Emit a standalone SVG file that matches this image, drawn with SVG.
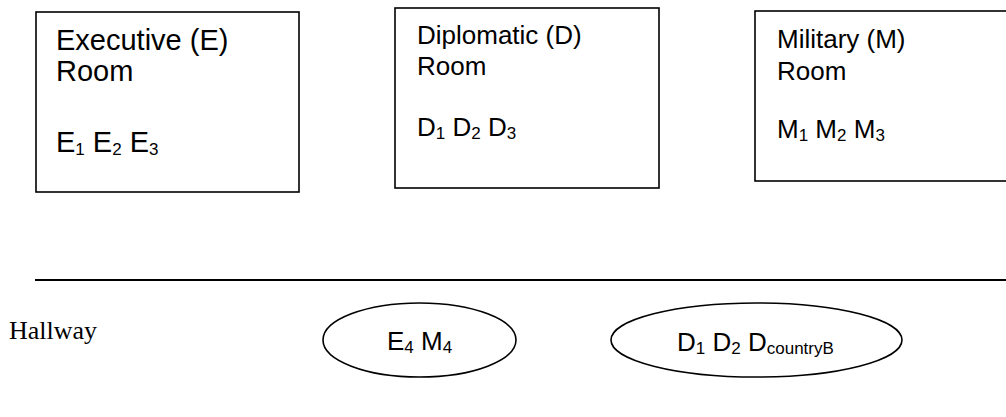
<svg xmlns="http://www.w3.org/2000/svg" width="1006" height="417" viewBox="0 0 1006 417">
  <style>
    .box { fill: #ffffff; stroke: #000000; stroke-width: 1.6; }
    .oval { fill: #ffffff; stroke: #000000; stroke-width: 1.6; }
    .lbl { font-family: "Liberation Sans", Arial, sans-serif; fill: #000000; }
    .big { font-size: 29px; }
    .mid { font-size: 26px; }
    .small { font-size: 26px; }
    .sub { font-size: 17px; }
    .serif { font-family: "Liberation Serif", "Times New Roman", serif; font-size: 26px; fill: #000000; }
  </style>
  <rect width="1006" height="417" fill="#ffffff"/>

  <!-- Executive room -->
  <g id="room-executive">
    <rect class="box" x="36" y="12" width="263" height="180"/>
    <text class="lbl big" x="56" y="50">Executive (E)</text>
    <text class="lbl big" x="56" y="81">Room</text>
    <text class="lbl big" x="56" y="152">E<tspan class="sub" dy="3">1</tspan><tspan dy="-3"> E</tspan><tspan class="sub" dy="3">2</tspan><tspan dy="-3"> E</tspan><tspan class="sub" dy="3">3</tspan></text>
  </g>

  <!-- Diplomatic room -->
  <g id="room-diplomatic">
    <rect class="box" x="395" y="8" width="264" height="180"/>
    <text class="lbl mid" x="417" y="44">Diplomatic (D)</text>
    <text class="lbl mid" x="417" y="75">Room</text>
    <text class="lbl mid" x="417" y="136">D<tspan class="sub" dy="3">1</tspan><tspan dy="-3"> D</tspan><tspan class="sub" dy="3">2</tspan><tspan dy="-3"> D</tspan><tspan class="sub" dy="3">3</tspan></text>
  </g>

  <!-- Military room -->
  <g id="room-military">
    <rect class="box" x="755" y="11" width="260" height="170"/>
    <text class="lbl mid" x="777" y="48">Military (M)</text>
    <text class="lbl mid" x="777" y="80">Room</text>
    <text class="lbl mid" x="777" y="138">M<tspan class="sub" dy="3">1</tspan><tspan dy="-3"> M</tspan><tspan class="sub" dy="3">2</tspan><tspan dy="-3"> M</tspan><tspan class="sub" dy="3">3</tspan></text>
  </g>

  <!-- Hallway divider and label -->
  <g id="hallway">
    <line x1="35" y1="280" x2="1006" y2="280" stroke="#000000" stroke-width="2"/>
    <text class="serif" x="9" y="339">Hallway</text>
  </g>

  <!-- Groups standing in the hallway -->
  <g id="hall-group-em">
    <ellipse class="oval" cx="419.5" cy="340" rx="96.5" ry="37"/>
    <text class="lbl small" x="387" y="350">E<tspan class="sub" dy="3">4</tspan><tspan dy="-3"> M</tspan><tspan class="sub" dy="3">4</tspan></text>
  </g>

  <g id="hall-group-d">
    <ellipse class="oval" cx="756.5" cy="340" rx="145.5" ry="37"/>
    <text class="lbl small" x="677" y="351">D<tspan class="sub" dy="3">1</tspan><tspan dy="-3"> D</tspan><tspan class="sub" dy="3">2</tspan><tspan dy="-3"> D</tspan><tspan class="sub" dy="3">countryB</tspan></text>
  </g>

  <!-- no connectors in this layout -->
  <g id="connectors"/>
</svg>
